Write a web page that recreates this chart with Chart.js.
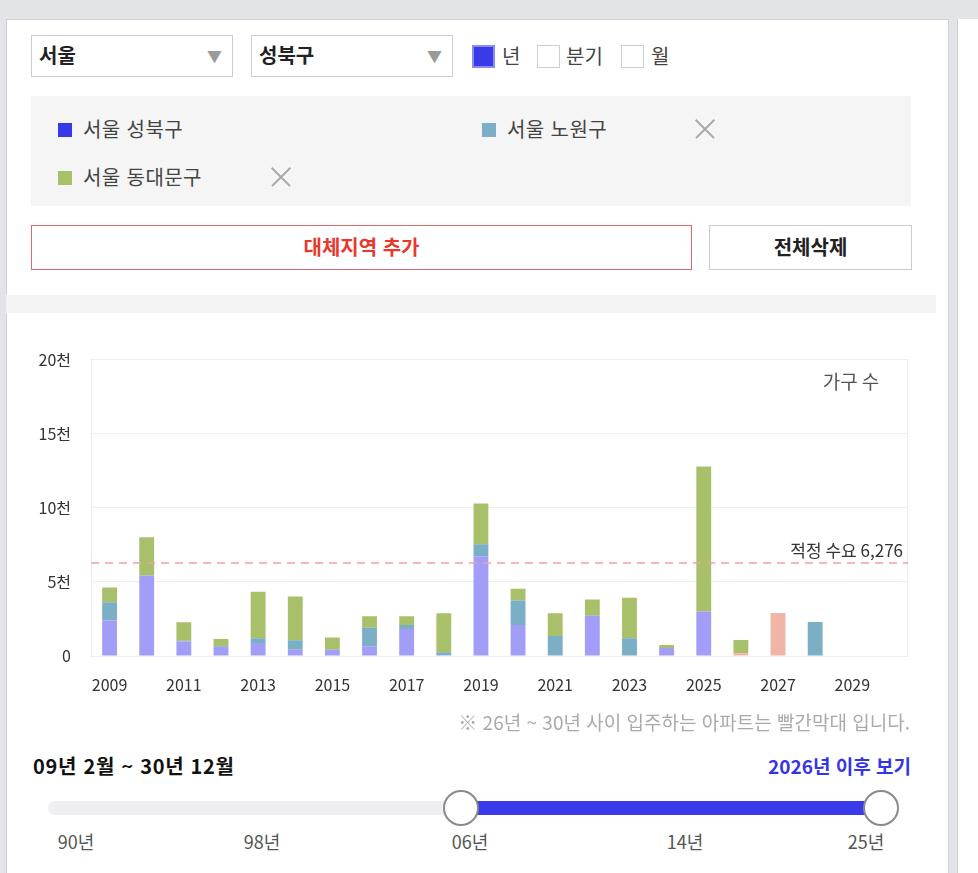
<!DOCTYPE html>
<html lang="ko">
<head>
<meta charset="utf-8">
<title>입주물량</title>
<script src="https://cdn.jsdelivr.net/npm/chart.js@4.4.0/dist/chart.umd.min.js"></script>
<style>
  body { margin: 0; width: 978px; height: 873px; overflow: hidden; background: #e3e4e8;
         font-family: 'Noto Sans CJK KR', 'Noto Sans', sans-serif; color: #333; position: relative; }
  .abs { position: absolute; }
  .panel { left: 6px; top: 19px; width: 941px; height: 860px; background: #fff; border: 1px solid #cfd0d4; }
  .panel2 { left: 957px; top: 19px; width: 30px; height: 860px; background: #fff; border-left: 1px solid #cfd0d4; }
  .select { height: 42px; width: 202px; border: 1px solid #cccccc; background: #fff; box-sizing: border-box;
            font-size: 20px; font-weight: bold; line-height: 38px; padding-left: 7px; color: #222; }
  .select .arrow { position: absolute; right: 10px; top: 1px; color: #9a9a9a; font-size: 15px; font-weight: normal; }
  .chk { width: 23px; height: 23px; box-sizing: border-box; border: 1px solid #cfcfcf; background: #fff; }
  .chk.on { background: #3a3ae8; border: 2px solid #8c8cf0; }
  .lbl { font-size: 20px; line-height: 26px; color: #444; }
  .legend { left: 31px; top: 96px; width: 880px; height: 110px; background: #f5f5f5; }
  .sq { width: 14px; height: 14px; }
  .ltxt { font-size: 20px; line-height: 26px; color: #444; letter-spacing: 0.4px; }
  .x { width: 18px; height: 18px; }
  .x::before, .x::after { content: ''; position: absolute; left: -4px; top: 8px; width: 26px; height: 1.5px; background: #a8a8a8; }
  .x::before { transform: rotate(45deg); }
  .x::after { transform: rotate(-45deg); }
  .btn { height: 45px; box-sizing: border-box; background: #fff; text-align: center; line-height: 42px;
         font-size: 20px; font-weight: bold; }
  .band { left: 6px; top: 295px; width: 930px; height: 18px; background: #f4f4f4; }
  .note { right: 68px; top: 709px; font-size: 19px; color: #aaa; line-height: 26px; }
  .range { left: 33px; top: 753px; font-size: 20px; font-weight: bold; color: #111; line-height: 26px; letter-spacing: 0.7px; }
  .after { right: 67px; top: 753px; font-size: 19px; font-weight: bold; color: #3535e8; line-height: 26px; }
  .track { left: 48px; top: 801px; width: 833px; height: 14px; border-radius: 7px; background: #efeff2; }
  .fill { left: 461px; top: 801px; width: 420px; height: 14px; background: #3a3aea; }
  .knob { width: 36px; height: 36px; border-radius: 50%; background: #fff; border: 2px solid #8a8a8a; box-sizing: border-box; }
  .tick { top: 828px; font-size: 18px; color: #555; line-height: 26px; transform: translateX(-50%); }
  #chartBox { left: 0; top: 330px; width: 940px; height: 380px; }
</style>
</head>
<body>
<div class="abs panel"></div>
<div class="abs panel2"></div>

<div class="abs select" style="left:31px;top:35px;">서울<span class="arrow">▼</span></div>
<div class="abs select" style="left:251px;top:35px;">성북구<span class="arrow">▼</span></div>

<div class="abs chk on" style="left:472px;top:45px;"></div>
<div class="abs lbl" style="left:502px;top:43px;">년</div>
<div class="abs chk" style="left:537px;top:45px;"></div>
<div class="abs lbl" style="left:566px;top:43px;">분기</div>
<div class="abs chk" style="left:621px;top:45px;"></div>
<div class="abs lbl" style="left:651px;top:43px;">월</div>

<div class="abs legend"></div>
<div class="abs sq" style="left:58px;top:123px;background:#3838e8;"></div>
<div class="abs ltxt" style="left:83px;top:116px;">서울 성북구</div>
<div class="abs sq" style="left:482px;top:123px;background:#7aafc6;"></div>
<div class="abs ltxt" style="left:507px;top:116px;">서울 노원구</div>
<div class="abs x" style="left:696px;top:120px;"></div>
<div class="abs sq" style="left:58px;top:171px;background:#a8c06a;"></div>
<div class="abs ltxt" style="left:83px;top:164px;">서울 동대문구</div>
<div class="abs x" style="left:272px;top:168px;"></div>

<div class="abs btn" style="left:31px;top:225px;width:661px;border:1px solid #e06a6a;color:#e8392d;">대체지역 추가</div>
<div class="abs btn" style="left:709px;top:225px;width:203px;border:1px solid #cccccc;color:#222;">전체삭제</div>

<div class="abs band"></div>

<div class="abs" id="chartBox"><canvas id="supplyChart"></canvas></div>

<div class="abs note">※ 26년 ~ 30년 사이 입주하는 아파트는 빨간막대 입니다.</div>
<div class="abs range">09년 2월 ~ 30년 12월</div>
<div class="abs after">2026년 이후 보기</div>

<div class="abs track"></div>
<div class="abs fill"></div>
<div class="abs knob" style="left:443px;top:790px;"></div>
<div class="abs knob" style="left:863px;top:790px;"></div>
<div class="abs tick" style="left:76px;">90년</div>
<div class="abs tick" style="left:262px;">98년</div>
<div class="abs tick" style="left:470px;">06년</div>
<div class="abs tick" style="left:685px;">14년</div>
<div class="abs tick" style="left:866px;">25년</div>

<script>
const years = ['2009', '2010', '2011', '2012', '2013', '2014', '2015', '2016', '2017', '2018', '2019',
  '2020', '2021', '2022', '2023', '2024', '2025', '2026', '2027', '2028', '2029', '2030'];

// 가구 수 (households moving in per year)
const seongbuk = [2390, 5440, 970, 610, 880, 430, 430, 650, 1830, 50, 6730,
  2100, 0, 2710, 0, 540, 3000, 180, 2900, 0, 0, 0];
const nowon = [1240, 0, 60, 40, 320, 630, 0, 1250, 270, 200, 810,
  1650, 1350, 0, 1200, 0, 0, 0, 0, 2300, 0, 0];
const dongdaemun = [1000, 2570, 1250, 490, 3130, 2960, 810, 790, 590, 2640, 2750,
  790, 1540, 1100, 2730, 200, 9780, 900, 0, 0, 0, 0];

const yTicks = [0, 5000, 10000, 15000, 20000];
const demandLine = 6276;
const futureFrom = 2026;

const purple = '#a29df6';
const pink = '#f1b5a8';

Chart.defaults.font.family = "'Noto Sans CJK KR', 'Noto Sans', sans-serif";
Chart.defaults.color = '#333';

// dashed demand line, its label, the right frame edge and the unit label
const overlay = {
  id: 'overlay',
  afterDatasetsDraw(chart) {
    const { ctx, chartArea: a, scales: { y } } = chart;
    const py = y.getPixelForValue(demandLine);
    ctx.save();
    ctx.strokeStyle = '#ececec';
    ctx.lineWidth = 1;
    ctx.beginPath();
    ctx.moveTo(a.right - 0.5, a.top);
    ctx.lineTo(a.right - 0.5, a.bottom);
    ctx.stroke();

    ctx.strokeStyle = '#f0a0a0';
    ctx.lineWidth = 1.5;
    ctx.setLineDash([8, 6]);
    ctx.beginPath();
    ctx.moveTo(a.left, py);
    ctx.lineTo(a.right, py);
    ctx.stroke();
    ctx.setLineDash([]);

    ctx.fillStyle = '#333';
    ctx.font = "17px 'Noto Sans CJK KR', sans-serif";
    ctx.textAlign = 'right';
    ctx.textBaseline = 'bottom';
    ctx.fillText('적정 수요 ' + demandLine.toLocaleString('en-US'), a.right - 5, py - 4);

    ctx.fillStyle = '#555';
    ctx.font = "19px 'Noto Sans CJK KR', sans-serif";
    ctx.textAlign = 'center';
    ctx.textBaseline = 'middle';
    ctx.fillText('가구 수', a.right - 57, a.top + 22);
    ctx.restore();
  }
};

const ctx = document.getElementById('supplyChart').getContext('2d');
const supplyChart = new Chart(ctx, {
  type: 'bar',
  data: {
    labels: years,
    datasets: [
      {
        label: '서울 성북구',
        data: seongbuk,
        backgroundColor: years.map(y => (Number(y) >= futureFrom ? pink : purple))
      },
      { label: '서울 노원구', data: nowon, backgroundColor: '#7aafc6' },
      { label: '서울 동대문구', data: dongdaemun, backgroundColor: '#a8c06a' }
    ]
  },
  options: {
    responsive: true,
    maintainAspectRatio: false,
    animation: false,
    layout: { padding: { top: 29, right: 32, left: 0, bottom: 0 } },
    categoryPercentage: 0.8,
    barPercentage: 0.5,
    plugins: {
      legend: { display: false },
      tooltip: { enabled: false }
    },
    scales: {
      x: {
        stacked: true,
        grid: { display: false },
        border: { display: false },
        ticks: {
          autoSkip: false,
          maxRotation: 0,
          padding: 11,
          font: { size: 16 },
          callback: (v, i) => (i % 2 === 0 ? years[i] : '')
        },
        afterFit: scale => { scale.height = 54; }
      },
      y: {
        stacked: true,
        min: 0,
        max: yTicks[yTicks.length - 1],
        grid: { color: '#eeeeee', drawTicks: false },
        border: { display: true, color: '#ececec' },
        afterBuildTicks: scale => { scale.ticks = yTicks.map(v => ({ value: v })); },
        ticks: {
          padding: 20,
          font: { size: 16 },
          callback: v => (v === 0 ? '0' : v / 1000 + '천')
        },
        afterFit: scale => { scale.width = 91; }
      }
    }
  },
  plugins: [overlay]
});
</script>
</body>
</html>
